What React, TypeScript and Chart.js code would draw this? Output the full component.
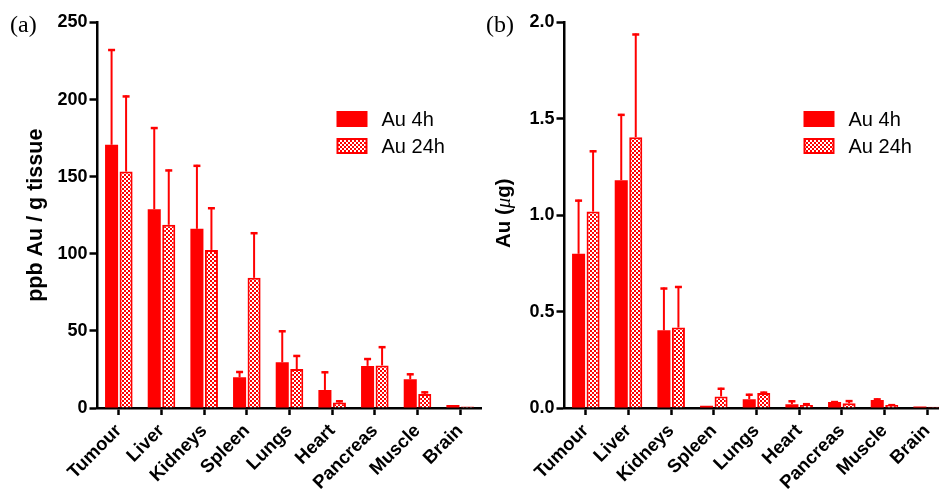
import React, { useEffect, useRef } from 'react';
import { Chart, registerables } from 'chart.js';

Chart.register(...registerables);

// ---------- data ----------
const categories = ['Tumour', 'Liver', 'Kidneys', 'Spleen', 'Lungs', 'Heart', 'Pancreas', 'Muscle', 'Brain'];
const seriesLabels = ['Au 4h', 'Au 24h'];

// (a) ppb Au / g tissue
const ppb4h = [170.7, 128.9, 116.2, 19.9, 29.6, 11.7, 27.3, 18.6, 2.0];
const ppb4hSD = [62.1, 53.3, 41.5, 4.1, 20.8, 12.1, 5.1, 3.9, 0];
const ppb24h = [153.3, 118.8, 102.5, 84.4, 25.3, 3.5, 27.6, 9.0, 1.0];
const ppb24hSD = [49.4, 35.9, 27.7, 29.6, 9.1, 1.5, 12.5, 1.8, 0];
const ppbTicks = [0, 50, 100, 150, 200, 250];

// (b) Au (µg)
const ug4h = [0.8, 1.182, 0.403, 0.012, 0.046, 0.02, 0.031, 0.042, 0.008];
const ug4hSD = [0.281, 0.344, 0.222, 0, 0.028, 0.02, 0.005, 0.008, 0];
const ug24h = [1.019, 1.405, 0.417, 0.06, 0.078, 0.016, 0.024, 0.016, 0.006];
const ug24hSD = [0.318, 0.538, 0.216, 0.045, 0.007, 0.009, 0.017, 0.004, 0];
const ugTicks = [0, 0.5, 1.0, 1.5, 2.0];

const RED = '#ff0000';
const SANS = "'Liberation Sans', Arial, Helvetica, sans-serif";
const SERIF = "'Liberation Serif', 'Times New Roman', serif";

type PanelProps = {
  tag: string;
  canvasLeft: number;
  canvasWidth: number;
  axisLeft: number;
  ticks: number[];
  decimals: number;
  m4: number[];
  s4: number[];
  m24: number[];
  s24: number[];
  yTitle: string;
  mixedTitle: boolean;
};

const H = 489;
const PLOT_W = 384;

function Panel(p: PanelProps) {
  const ref = useRef<HTMLCanvasElement | null>(null);

  useEffect(() => {
    const canvas = ref.current!;
    const ctx = canvas.getContext('2d')!;
    const tile = document.createElement('canvas');
    tile.width = 4;
    tile.height = 4;
    const tg = tile.getContext('2d')!;
    tg.fillStyle = RED;
    tg.fillRect(0, 0, 4, 4);
    tg.fillStyle = '#ffffff';
    tg.fillRect(0, 0, 2, 2);
    tg.fillRect(2, 2, 2, 2);
    const pattern = ctx.createPattern(tile, 'repeat')!;

    const sds = [p.s4, p.s24];

    const overlay = {
      id: 'overlay',
      afterDatasetsDraw(chart: any) {
        const c = chart.ctx;
        const ys = chart.scales.y;
        c.save();
        c.strokeStyle = RED;
        c.lineCap = 'butt';
        chart.data.datasets.forEach((ds: any, di: number) => {
          const meta = chart.getDatasetMeta(di);
          meta.data.forEach((el: any, j: number) => {
            const sd = sds[di][j];
            if (!sd) return;
            const top = ys.getPixelForValue(ds.data[j] + sd);
            c.lineWidth = 2;
            c.beginPath();
            c.moveTo(el.x, el.y);
            c.lineTo(el.x, top);
            c.stroke();
            c.lineWidth = 2.5;
            c.beginPath();
            c.moveTo(el.x - 3.5, top + 1);
            c.lineTo(el.x + 3.5, top + 1);
            c.stroke();
          });
        });
        c.restore();
      },
      afterDraw(chart: any) {
        const c = chart.ctx;
        const area = chart.chartArea;
        c.save();
        // legend
        const bx = area.left + 239;
        const by = area.top + 88.5;
        const bw = 31;
        const bh = 16;
        const gap = 27;
        c.fillStyle = RED;
        c.fillRect(bx, by, bw, bh);
        c.fillStyle = RED;
        c.fillRect(bx, by + gap, bw, bh);
        c.fillStyle = pattern;
        c.fillRect(bx + 2, by + gap + 2, bw - 4, bh - 4);
        c.fillStyle = '#000';
        c.font = `20px ${SANS}`;
        c.textAlign = 'left';
        c.textBaseline = 'middle';
        chart.data.datasets.forEach((ds: any, i: number) => {
          c.fillText(ds.label, bx + bw + 14, by + bh / 2 + i * gap + 1);
        });
        // panel tag
        c.font = `24px ${SERIF}`;
        c.textBaseline = 'alphabetic';
        c.fillText(`(${p.tag})`, p.tag === 'a' ? 10 : 16, 32);
        // mixed-font y title
        if (p.mixedTitle) {
          const cx = area.left - 60;
          const cy = (area.top + area.bottom) / 2 - 2;
          const parts = [
            { t: 'Au (', f: `bold 20.5px ${SANS}` },
            { t: 'μ', f: `italic 21px ${SERIF}` },
            { t: 'g)', f: `bold 20.5px ${SANS}` },
          ];
          let total = 0;
          parts.forEach((pt) => {
            c.font = pt.f;
            total += c.measureText(pt.t).width;
          });
          c.translate(cx, cy);
          c.rotate(-Math.PI / 2);
          c.textBaseline = 'middle';
          let x = -total / 2;
          parts.forEach((pt) => {
            c.font = pt.f;
            c.fillText(pt.t, x, 0);
            x += c.measureText(pt.t).width;
          });
        }
        c.restore();
      },
    };

    const yTickFont = { family: SANS, size: 18, weight: 'bold' as const };
    const xTickFont = { family: SANS, size: 18.5, weight: 'bold' as const };
    const chart = new Chart(ctx, {
      type: 'bar',
      data: {
        labels: categories,
        datasets: [
          {
            label: seriesLabels[0],
            data: p.m4,
            backgroundColor: RED,
            borderColor: RED,
            borderWidth: 0,
            barPercentage: 0.9,
            categoryPercentage: 0.68,
          },
          {
            label: seriesLabels[1],
            data: p.m24,
            backgroundColor: pattern as any,
            borderColor: RED,
            borderWidth: 2,
            barPercentage: 0.9,
            categoryPercentage: 0.68,
          },
        ],
      },
      options: {
        responsive: false,
        animation: false,
        devicePixelRatio: 1,
        layout: {
          padding: { left: 0, top: 22.5, right: p.canvasWidth - p.axisLeft - PLOT_W, bottom: 0 },
        },
        plugins: { legend: { display: false }, tooltip: { enabled: false } },
        scales: {
          x: {
            type: 'category',
            offset: true,
            border: { display: true, color: '#000', width: 2.5 },
            grid: {
              display: true,
              offset: false,
              drawOnChartArea: false,
              drawTicks: true,
              tickLength: 7,
              tickColor: '#000',
              tickWidth: 2.5,
            },
            ticks: {
              color: '#000',
              font: xTickFont,
              minRotation: 45,
              maxRotation: 45,
              autoSkip: false,
              padding: 5,
            },
            afterFit: (s: any) => {
              s.height = 81;
            },
          },
          y: {
            min: 0,
            max: p.ticks[p.ticks.length - 1],
            border: { display: true, color: '#000', width: 2.5 },
            grid: {
              display: true,
              drawOnChartArea: false,
              drawTicks: true,
              tickLength: 8,
              tickColor: '#000',
              tickWidth: 2.5,
            },
            afterBuildTicks: (s: any) => {
              s.ticks = p.ticks.map((v) => ({ value: v }));
            },
            ticks: {
              color: '#000',
              font: yTickFont,
              padding: 2,
              callback: (v: any) => Number(v).toFixed(p.decimals),
            },
            title: {
              display: !p.mixedTitle,
              text: p.yTitle,
              color: '#000',
              font: { family: SANS, size: 21.5, weight: 'bold' },
              padding: { top: 23.5, bottom: 0 },
            },
            afterFit: (s: any) => {
              s.width = p.axisLeft;
            },
          },
        },
      },
      plugins: [overlay as any],
    });
    return () => chart.destroy();
  }, []);

  return (
    <canvas
      ref={ref}
      width={p.canvasWidth}
      height={H}
      style={{ position: 'absolute', left: p.canvasLeft, top: 0, width: p.canvasWidth, height: H }}
    />
  );
}

export default function App() {
  return (
    <div
      style={{
        position: 'absolute',
        left: 0,
        top: 0,
        width: 939,
        height: 489,
        overflow: 'hidden',
        background: '#fff',
      }}
    >
      <Panel
        tag="a"
        canvasLeft={0}
        canvasWidth={490}
        axisLeft={97.5}
        ticks={ppbTicks}
        decimals={0}
        m4={ppb4h}
        s4={ppb4hSD}
        m24={ppb24h}
        s24={ppb24hSD}
        yTitle="ppb Au / g tissue"
        mixedTitle={false}
      />
      <Panel
        tag="b"
        canvasLeft={470}
        canvasWidth={490}
        axisLeft={94.5}
        ticks={ugTicks}
        decimals={1}
        m4={ug4h}
        s4={ug4hSD}
        m24={ug24h}
        s24={ug24hSD}
        yTitle="Au (μg)"
        mixedTitle={true}
      />
    </div>
  );
}
